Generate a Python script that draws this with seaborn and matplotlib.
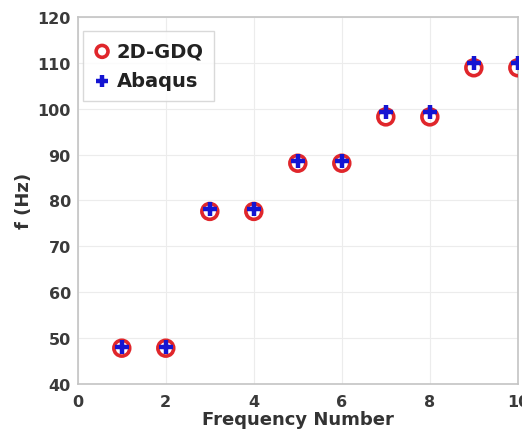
import numpy as np
import pandas as pd
import matplotlib
matplotlib.use("Agg")
import matplotlib.pyplot as plt
import seaborn as sns

freq_number = [1, 2, 3, 4, 5, 6, 7, 8, 9, 10]
gdq_hz = [47.8, 47.8, 77.6, 77.6, 88.1, 88.1, 98.2, 98.2, 108.9, 108.9]
abaqus_hz = [48.1, 48.1, 78.1, 78.1, 88.6, 88.6, 99.2, 99.2, 110.0, 110.0]
x_ticks = [0, 2, 4, 6, 8, 10]
y_ticks = [40, 50, 60, 70, 80, 90, 100, 110, 120]

sns.set_style("whitegrid", {"grid.color": "#ececec", "axes.edgecolor": "#c4c4c4"})
plt.rcParams["font.family"] = ["DejaVu Sans"]
plt.rcParams["font.weight"] = "bold"

df = pd.DataFrame({"n": freq_number, "gdq": gdq_hz, "abaqus": abaqus_hz})

fig = plt.figure(figsize=(5.22, 4.35), dpi=100)
ax = fig.add_axes([0.149, 0.115, 0.843, 0.844])

sns.scatterplot(data=df, x="n", y="gdq", ax=ax, marker="o", s=130,
                facecolor="none", edgecolor="#e0262b", linewidth=2.6,
                label="2D-GDQ", zorder=3)
sns.scatterplot(data=df, x="n", y="abaqus", ax=ax, marker="+", s=115,
                color="#1414d2", linewidth=3.2,
                label="Abaqus", zorder=4)

ax.set_xlim(0, 10)
ax.set_ylim(40, 120)
ax.set_xticks(x_ticks)
ax.set_yticks(y_ticks)
ax.tick_params(axis="both", labelsize=11.5, labelcolor="#3a3a3a", direction="in",
               length=3, color="#c4c4c4", pad=5)
ax.tick_params(axis="x", pad=7)
for lbl in ax.get_xticklabels() + ax.get_yticklabels():
    lbl.set_fontweight("bold")
ax.set_xlabel("Frequency Number", fontsize=13, fontweight="bold", color="#333333", labelpad=1)
ax.set_ylabel("f (Hz)", fontsize=13, fontweight="bold", color="#333333", labelpad=3)
for s in ax.spines.values():
    s.set_visible(True)
    s.set_color("#c4c4c4")
    s.set_linewidth(1.2)

leg = ax.legend(loc="upper left", bbox_to_anchor=(0.011, 0.962), fontsize=14,
                frameon=True, handletextpad=0.3, borderpad=0.55, labelspacing=0.55,
                handlelength=0.9, borderaxespad=0, fancybox=False,
                edgecolor="#d0d0d0", markerscale=0.75)
leg.get_frame().set_linewidth(1.0)
for t in leg.get_texts():
    t.set_fontweight("bold")
    t.set_color("#222222")

fig.savefig("out.png", dpi=100)
